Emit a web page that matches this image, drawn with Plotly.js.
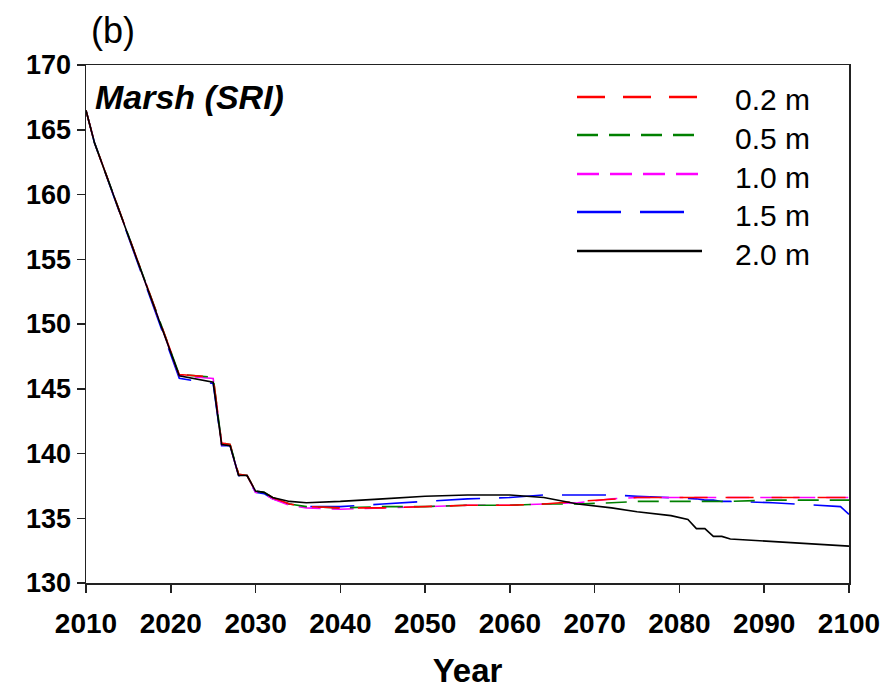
<!DOCTYPE html>
<html>
<head>
<meta charset="utf-8">
<script src="https://cdn.plot.ly/plotly-3.0.1.min.js"></script>
<style>
  html, body { margin: 0; padding: 0; background: #fff; }
  #chart { width: 892px; height: 689px; }
</style>
</head>
<body>
<div id="chart"></div>
<script>
// Marsh area (SRI) projections under five sea-level-rise scenarios
const years = [2010, 2011, 2021, 2025, 2026, 2027, 2028, 2029, 2030, 2031, 2032, 2034, 2036,
               2040, 2045, 2050, 2055, 2060, 2064, 2068, 2072, 2075, 2079, 2081, 2082,
               2083, 2084, 2085, 2086, 2091, 2094, 2099, 2100];

const slr02 = [166.5, 164.0, 146.1, 145.9, 140.8, 140.7, 138.4, 138.3, 137.1, 137.0, 136.6, 136.1, 135.9,
               135.8, 135.8, 135.9, 136.0, 136.0, 136.1, 136.3, 136.5, 136.6, 136.6, 136.6, 136.6,
               136.6, 136.6, 136.6, 136.6, 136.6, 136.6, 136.6, 136.6];
const slr05 = [166.5, 164.0, 146.1, 145.9, 140.8, 140.7, 138.4, 138.3, 137.1, 137.0, 136.6, 136.1, 135.9,
               135.8, 135.9, 135.9, 136.0, 136.0, 136.1, 136.1, 136.2, 136.3, 136.3, 136.3, 136.3,
               136.3, 136.3, 136.3, 136.3, 136.4, 136.4, 136.4, 136.4];
const slr10 = [166.5, 164.0, 146.0, 145.8, 140.7, 140.6, 138.3, 138.3, 137.0, 136.9, 136.5, 136.0, 135.8,
               135.7, 135.8, 135.9, 136.0, 136.0, 136.1, 136.2, 136.5, 136.6, 136.6, 136.6, 136.6,
               136.6, 136.6, 136.6, 136.6, 136.6, 136.6, 136.6, 136.6];
const slr15 = [166.5, 164.0, 145.8, 145.4, 140.6, 140.6, 138.3, 138.2, 137.0, 136.9, 136.5, 136.1, 135.9,
               135.9, 136.1, 136.3, 136.5, 136.6, 136.8, 136.8, 136.8, 136.7, 136.6, 136.5, 136.5,
               136.4, 136.4, 136.3, 136.3, 136.2, 136.1, 135.9, 135.3];
const slr20 = [166.5, 164.0, 146.0, 145.5, 140.7, 140.6, 138.3, 138.3, 137.1, 137.0, 136.6, 136.3, 136.2,
               136.3, 136.5, 136.7, 136.8, 136.8, 136.6, 136.1, 135.8, 135.5, 135.2, 134.9, 134.2,
               134.2, 133.6, 133.6, 133.4, 133.2, 133.1, 132.9, 132.85];

const scenarioNames = ['0.2 m', '0.5 m', '1.0 m', '1.5 m', '2.0 m'];
const scenarioValues = [slr02, slr05, slr10, slr15, slr20];
const colors = ['#ff0000', '#008000', '#ff00ff', '#0000ff', '#000000'];
const dashes = ['28px,18px', '21px,11px', '22px,11px', '44px,19px', 'solid'];

const xTicks = [2010, 2020, 2030, 2040, 2050, 2060, 2070, 2080, 2090, 2100];
const yTicks = [130, 135, 140, 145, 150, 155, 160, 165, 170];

const FONT = 'Arial, "Liberation Sans", sans-serif';

// dashed scenarios first, the solid 2.0 m curve on top
const order = [3, 2, 1, 0, 4];
const traces = order.map(i => ({
  type: 'scatter',
  mode: 'lines',
  x: years,
  y: scenarioValues[i],
  name: scenarioNames[i],
  line: { color: colors[i], width: 1.6, dash: dashes[i] },
  showlegend: false
}));

// hand-drawn key: long line samples with labels to their right
const L = 86, R = 849, T = 65, B = 583;
const px = x => (x - L) / (R - L);
const py = y => (B - y) / (B - T);
const keyRows = [97, 135, 174, 212, 251];
const keyEnds = [698, 695, 698, 685, 702];

const shapes = scenarioNames.map((n, i) => ({
  type: 'line', xref: 'paper', yref: 'paper',
  x0: px(577), x1: px(keyEnds[i]), y0: py(keyRows[i]), y1: py(keyRows[i]),
  line: { color: colors[i], width: 2.4, dash: dashes[i] }
}));

const annotations = scenarioNames.map((n, i) => ({
  xref: 'paper', yref: 'paper', x: px(733), y: py(keyRows[i] + 3),
  xanchor: 'left', yanchor: 'middle', showarrow: false,
  text: n, font: { family: FONT, size: 30, color: '#000' }
}));

annotations.push({
  xref: 'paper', yref: 'paper', x: px(93), y: py(97),
  xanchor: 'left', yanchor: 'middle', showarrow: false,
  text: '<b><i>Marsh (SRI)</i></b>', font: { family: FONT, size: 34, color: '#000' }
});
annotations.push({
  xref: 'paper', yref: 'paper', x: px(89), y: py(31),
  xanchor: 'left', yanchor: 'middle', showarrow: false,
  text: '(b)', font: { family: FONT, size: 36, color: '#000' }
});

const layout = {
  width: 892, height: 689,
  margin: { l: L, r: 892 - R, t: T, b: 689 - B, pad: 0 },
  paper_bgcolor: '#fff', plot_bgcolor: '#fff',
  showlegend: false,
  xaxis: {
    range: [2010, 2100], tickvals: xTicks, ticktext: xTicks.map(String),
    showgrid: false, zeroline: false,
    showline: true, mirror: true, linecolor: '#222', linewidth: 1.5,
    ticks: 'outside', ticklen: 8, tickwidth: 1.5, tickcolor: '#222',
    ticklabelstandoff: 7,
    tickfont: { family: FONT, size: 28, color: '#000', weight: 'bold' },
    title: { text: '<b>Year</b>', font: { family: FONT, size: 33, color: '#000' }, standoff: 22 }
  },
  yaxis: {
    range: [130, 170], tickvals: yTicks, ticktext: yTicks.map(String),
    showgrid: false, zeroline: false,
    showline: true, mirror: true, linecolor: '#222', linewidth: 1.5,
    ticks: 'outside', ticklen: 8, tickwidth: 1.5, tickcolor: '#222',
    tickfont: { family: FONT, size: 27, color: '#000', weight: 'bold' }
  },
  shapes: shapes,
  annotations: annotations
};

Plotly.newPlot('chart', traces, layout, { staticPlot: true, displayModeBar: false });
</script>
</body>
</html>
